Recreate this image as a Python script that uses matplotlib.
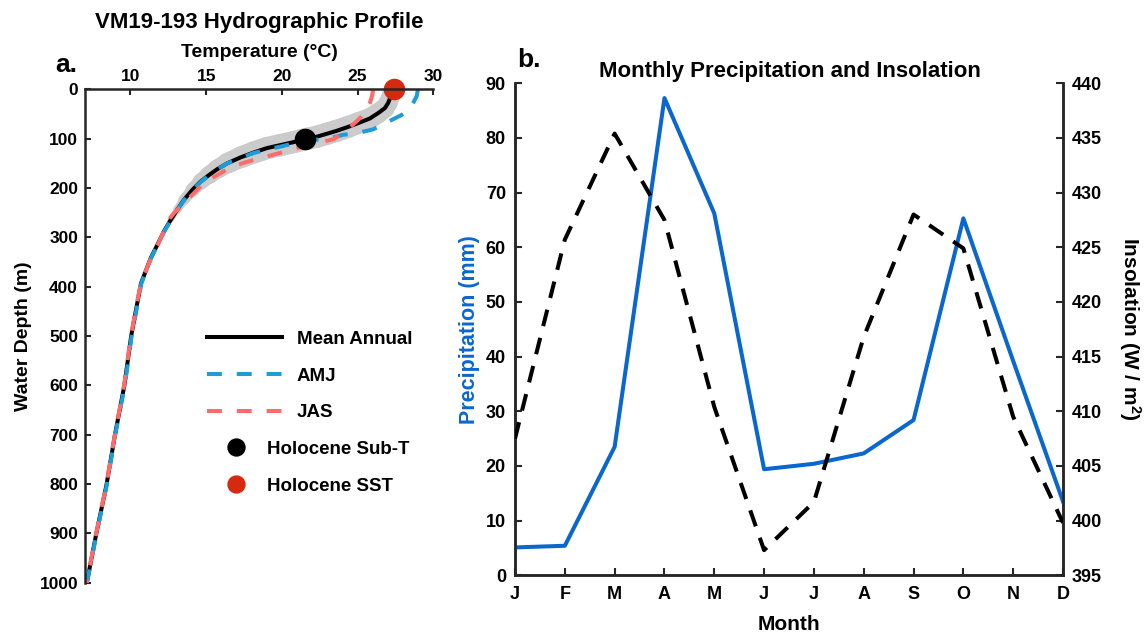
import matplotlib
matplotlib.use("Agg")
import numpy as np
import matplotlib.pyplot as plt
from matplotlib.lines import Line2D
from matplotlib.collections import LineCollection

plt.rcParams['font.family'] = ['Liberation Sans', 'DejaVu Sans']
plt.rcParams['font.weight'] = 'bold'
plt.rcParams['mathtext.fontset'] = 'custom'
plt.rcParams['mathtext.rm'] = 'Liberation Sans:bold'
plt.rcParams['mathtext.bf'] = 'Liberation Sans:bold'
plt.rcParams['mathtext.it'] = 'Liberation Sans:bold'

# ---------------- Hydrographic profile (panel a) ----------------
# mean annual temperature profile (deg C) against depth (m)
depth_mean = [0, 16, 28, 38, 48, 59, 67, 76, 84, 90, 96, 101, 107, 113, 119, 128,
              138, 150, 162, 174, 187, 204, 224, 244, 265, 288, 315, 342, 393,
              450, 500, 600, 700, 800, 900, 1000]
temp_mean = [27.3, 27.17, 27.01, 26.8, 26.36, 25.81, 25.15, 24.38, 23.62, 22.96,
             22.3, 21.53, 20.76, 19.89, 19.01, 18.13, 17.26, 16.38, 15.72, 15.17,
             14.63, 14.08, 13.53, 13.09, 12.65, 12.21, 11.78, 11.34, 10.7, 10.35,
             10.05, 9.6, 8.98, 8.43, 7.75, 7.12]

# April-May-June profile
depth_amj = [0, 14, 28, 41, 52, 67, 81, 89, 92, 99, 102, 105, 110, 116, 122, 129,
             139, 150, 162, 174, 187, 204, 224, 244, 265, 288, 315, 342, 393, 450,
             500, 600, 700, 800, 900, 1000]
temp_amj = [28.99, 28.9, 28.66, 28.4, 27.9, 26.91, 26.03, 24.93, 24.05, 23.18,
            22.3, 21.5, 20.7, 19.9, 19.0, 18.13, 17.26, 16.38, 15.74, 15.2, 14.66,
            14.1, 13.55, 13.1, 12.67, 12.23, 11.8, 11.36, 10.72, 10.38, 10.08, 9.63,
            9.0, 8.45, 7.77, 7.13]

# July-August-September profile
depth_jas = [0, 14, 28, 42, 55, 65, 75, 85, 93, 101, 107, 113, 119, 125, 135, 140,
             150, 158, 174, 187, 207, 224, 251, 268, 288, 315, 342, 393, 450, 500,
             600, 700, 800, 900, 1000]
temp_jas = [26.03, 25.95, 25.81, 25.6, 25.26, 24.93, 24.55, 24.15, 23.8, 23.4,
            22.63, 21.8, 20.99, 20.33, 19.12, 18.46, 17.37, 16.6, 15.72, 14.95,
            14.3, 13.75, 12.87, 12.43, 12.2, 11.8, 11.36, 10.68, 10.33, 10.03, 9.58,
            8.97, 8.42, 7.74, 7.11]

subt_temp, subt_depth = 21.5, 100
sst_temp, sst_depth = 27.4, 0

# ---------------- Monthly climatology (panel b) ----------------
months = ['J', 'F', 'M', 'A', 'M', 'J', 'J', 'A', 'S', 'O', 'N', 'D']
precip_mm = [5.1, 5.4, 23.5, 87.3, 66.2, 19.4, 20.4, 22.3, 28.4, 65.3, 39.2, 13.5]
insolation = [407.5, 425.7, 435.4, 427.5, 410.4, 397.3, 401.7, 416.8, 428.0,
              424.9, 409.5, 399.8]

W, H = 1147, 634
fig = plt.figure(figsize=(W / 100, H / 100), dpi=100)
fig.patch.set_facecolor('white')

SPINE = '#262626'
BLUE_AMJ = '#1f9bd6'
PINK_JAS = '#ff6b6b'
RED_SST = '#d52a10'
BLUE_P = '#0a67cd'
DASH = (3.7, 3.7)

# ---- panel a ----
ax1 = fig.add_axes([85 / W, 1 - 582.7 / H, 348.3 / W, 493.3 / H])

# grey envelope around the mean profile: a ribbon whose width (points)
# narrows below the thermocline
ribbon_pts = [13, 13, 13.5, 14, 14.5, 15, 15.5, 15.8, 16, 16, 16, 16, 16, 16, 16,
              16, 15.5, 14.5, 13.5, 12.5, 11, 9, 7, 5, 3.5, 2, 0.5, 0, 0, 0, 0,
              0, 0, 0, 0, 0]
pts = np.column_stack([temp_mean, depth_mean])
segs = np.stack([pts[:-1], pts[1:]], axis=1)
seg_w = 0.5 * (np.array(ribbon_pts[:-1]) + np.array(ribbon_pts[1:]))
keep = seg_w > 0
band = LineCollection(segs[keep], linewidths=seg_w[keep], colors='#cbcbcb',
                      capstyle='round', joinstyle='round', zorder=1)
ax1.add_collection(band)

ax1.plot(temp_mean, depth_mean, color='black', lw=2.9, zorder=2)
ax1.plot(temp_amj, depth_amj, color=BLUE_AMJ, lw=2.9, dashes=DASH, zorder=3)
ax1.plot(temp_jas, depth_jas, color=PINK_JAS, lw=2.9, dashes=DASH, zorder=4)
ax1.plot([subt_temp], [subt_depth], 'o', color='black', ms=14.5, zorder=5,
         clip_on=False)
ax1.plot([sst_temp], [sst_depth], 'o', color=RED_SST, ms=14.5, zorder=6,
         clip_on=False)

ax1.set_xlim(7, 30)
ax1.set_ylim(1000, 0)
ax1.set_xticks([10, 15, 20, 25, 30])
ax1.set_yticks(np.arange(0, 1001, 100))
ax1.xaxis.tick_top()
ax1.xaxis.set_label_position('top')
for s in ['bottom', 'right']:
    ax1.spines[s].set_visible(False)
for s in ['top', 'left']:
    ax1.spines[s].set_linewidth(1.8)
    ax1.spines[s].set_color(SPINE)
    ax1.spines[s].set_zorder(7)
ax1.tick_params(axis='x', direction='in', length=4.5, width=1.5, pad=4,
                labelsize=12.5, color=SPINE)
ax1.tick_params(axis='y', direction='in', length=4.5, width=1.5, pad=5,
                labelsize=12.5, color=SPINE)
for lab in ax1.get_xticklabels() + ax1.get_yticklabels():
    lab.set_fontweight('bold')
ax1.set_xlabel('Temperature (\u00b0C)', fontsize=14, fontweight='bold')
ax1.xaxis.set_label_coords(0.5, 1.066)
ax1.set_ylabel('Water Depth (m)', fontsize=14, fontweight='bold')
ax1.yaxis.set_label_coords(-0.152, 0.5)

line_handles = [Line2D([], [], color='black', lw=2.9),
                Line2D([], [], color=BLUE_AMJ, lw=2.9, dashes=DASH),
                Line2D([], [], color=PINK_JAS, lw=2.9, dashes=DASH)]
leg1 = ax1.legend(line_handles, ['Mean Annual', 'AMJ', 'JAS'],
                  loc='upper left', bbox_to_anchor=(0.35, 0.511), frameon=False,
                  borderpad=0, borderaxespad=0, handlelength=4.0,
                  handletextpad=0.8, labelspacing=1.05,
                  prop={'size': 13.5, 'weight': 'bold'})
ax1.add_artist(leg1)
dot_handles = [Line2D([], [], marker='o', ls='none', color='black', ms=12.2),
               Line2D([], [], marker='o', ls='none', color=RED_SST, ms=12.2)]
ax1.legend(dot_handles, ['Holocene Sub-T', 'Holocene SST'],
           loc='upper left', bbox_to_anchor=(0.405, 0.288), frameon=False,
           borderpad=0, borderaxespad=0, handlelength=1.07,
           handletextpad=1.1, labelspacing=1.05,
           prop={'size': 13.5, 'weight': 'bold'})

fig.text(259 / W, 1 - 28 / H, 'VM19-193 Hydrographic Profile', ha='center',
         va='baseline', fontsize=16, fontweight='bold')
fig.text(55 / W, 1 - 72 / H, 'a.', ha='left', va='baseline', fontsize=19,
         fontweight='bold')

# ---- panel b ----
ax = fig.add_axes([515 / W, 1 - 575.3 / H, 548 / W, 492 / H])
x = np.arange(1, len(months) + 1)
ax.plot(x, precip_mm, color=BLUE_P, lw=2.9, zorder=3)
ax.set_xlim(1, 12)
ax.set_ylim(0, 90)
ax.set_xticks(x)
ax.set_xticklabels(months)
ax.set_yticks(np.arange(0, 91, 10))
ax.spines['top'].set_visible(False)
for s in ['left', 'bottom', 'right']:
    ax.spines[s].set_linewidth(1.8)
    ax.spines[s].set_color(SPINE)
ax.tick_params(axis='x', direction='in', length=5, width=1.5, pad=8,
               labelsize=13, color=SPINE)
ax.tick_params(axis='y', direction='in', length=5, width=1.5, pad=6.5,
               labelsize=13, color=SPINE)
for lab in ax.get_xticklabels() + ax.get_yticklabels():
    lab.set_fontweight('bold')
ax.set_xlabel('Month', fontsize=15, fontweight='bold')
ax.xaxis.set_label_coords(0.5, -0.081)
ax.set_ylabel('Precipitation (mm)', fontsize=15.5, fontweight='bold', color=BLUE_P)
ax.yaxis.set_label_coords(-0.064, 0.5)

ax2 = ax.twinx()
ax2.plot(x, insolation, color='black', lw=2.9, dashes=(4.2, 3.0), zorder=4)
ax2.set_ylim(395, 440)
ax2.set_yticks(np.arange(395, 441, 5))
ax2.spines['top'].set_visible(False)
for s in ['left', 'bottom', 'right']:
    ax2.spines[s].set_linewidth(1.8)
    ax2.spines[s].set_color(SPINE)
ax2.tick_params(axis='y', direction='in', length=5, width=1.5, pad=6.5,
                labelsize=13, color=SPINE)
for lab in ax2.get_yticklabels():
    lab.set_fontweight('bold')
ax2.set_ylabel('Insolation (W / m$^2$)', fontsize=15, fontweight='bold',
               rotation=270, va='bottom')
ax2.yaxis.set_label_coords(1.098, 0.5)

fig.text(789.5 / W, 1 - 77 / H, 'Monthly Precipitation and Insolation',
         ha='center', va='baseline', fontsize=16, fontweight='bold')
fig.text(517 / W, 1 - 67 / H, 'b.', ha='left', va='baseline', fontsize=19,
         fontweight='bold')

fig.savefig('out.png', dpi=100, facecolor='white')
